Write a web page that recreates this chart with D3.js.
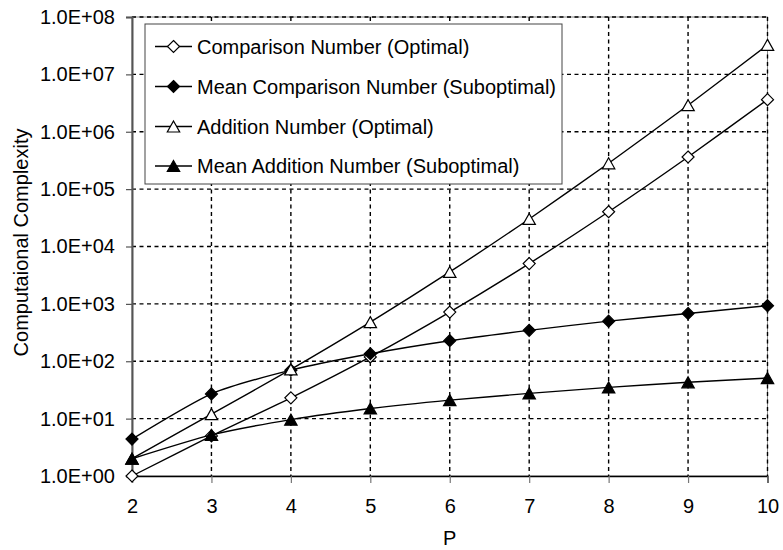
<!DOCTYPE html>
<html>
<head>
<meta charset="utf-8">
<script src="https://cdn.jsdelivr.net/npm/d3@7"></script>
<style>
  html, body { margin: 0; padding: 0; background: #fff; }
  svg { display: block; font-family: "Liberation Sans", Arial, sans-serif; }
</style>
</head>
<body>
<svg id="chart" width="783" height="550"></svg>
<script>
// ---- data ----
const pValues = [2, 3, 4, 5, 6, 7, 8, 9, 10];
const comparisonOptimal = [1, 5, 23, 119, 720, 5040, 40300, 363000, 3630000];
const meanComparisonSuboptimal = [4.4, 27, 70, 135, 228, 346, 500, 680, 930];
const additionOptimal = [2, 12, 72, 480, 3600, 30200, 282000, 2900000, 32700000];
const meanAdditionSuboptimal = [2, 5.2, 9.6, 15, 21, 27.5, 35, 43, 51];
const yTickValues = [1, 10, 100, 1e3, 1e4, 1e5, 1e6, 1e7, 1e8];
const yTickLabels = ["1.0E+00", "1.0E+01", "1.0E+02", "1.0E+03", "1.0E+04", "1.0E+05", "1.0E+06", "1.0E+07", "1.0E+08"];
const seriesNames = [
  "Comparison Number (Optimal)",
  "Mean Comparison Number (Suboptimal)",
  "Addition Number (Optimal)",
  "Mean Addition Number (Suboptimal)"
];
const seriesMarkers = ["diamondOpen", "diamondFilled", "triangleOpen", "triangleFilled"];
const xTitle = "P";
const yTitle = "Computaional Complexity";

const series = [comparisonOptimal, meanComparisonSuboptimal, additionOptimal, meanAdditionSuboptimal]
  .map((vals, i) => ({ name: seriesNames[i], marker: seriesMarkers[i], values: vals.map((v, j) => ({ x: pValues[j], y: v })) }));

// ---- layout ----
const L = 132, R = 767.5, T = 17, B = 476;
const svg = d3.select("#chart");
const FONT = 20;

const x = d3.scaleLinear().domain([2, 10]).range([L, R]);
const y = d3.scaleLog().domain([1, 1e8]).range([B, T]);

// plot border (right/top)
svg.append("rect").attr("x", L).attr("y", T).attr("width", R - L).attr("height", B - T)
  .attr("fill", "none").attr("stroke", "#888").attr("stroke-width", 1);

// gridlines
const grid = svg.append("g").attr("stroke", "#000").attr("stroke-width", 1.4).attr("stroke-dasharray", "4,3.5");
grid.selectAll("line.h").data(yTickValues.slice(1)).join("line")
  .attr("x1", L).attr("x2", R).attr("y1", d => y(d)).attr("y2", d => y(d));
grid.selectAll("line.v").data(pValues.slice(1)).join("line")
  .attr("x1", d => x(d)).attr("x2", d => x(d)).attr("y1", T).attr("y2", B);

// axes
const yAxis = d3.axisLeft(y).tickValues(yTickValues).tickFormat((d, i) => yTickLabels[i])
  .tickSize(6).tickPadding(11);
const gy = svg.append("g").attr("transform", `translate(${L},0)`).call(yAxis);
gy.select(".domain").attr("stroke", "#555").attr("stroke-width", 2);
gy.selectAll(".tick line").attr("stroke", "#555").attr("stroke-width", 1.2);
gy.selectAll(".tick text").attr("font-size", FONT).attr("fill", "#000")
  .attr("font-family", "Liberation Sans, Arial, sans-serif");

const xAxis = d3.axisBottom(x).tickValues(pValues).tickFormat(d3.format("d"))
  .tickSize(7).tickPadding(16);
const gx = svg.append("g").attr("transform", `translate(0,${B})`).call(xAxis);
gx.select(".domain").attr("stroke", "#000").attr("stroke-width", 1.3);
gx.selectAll(".tick line").attr("stroke", "#777").attr("stroke-width", 1.2);
gx.selectAll(".tick text").attr("font-size", FONT).attr("fill", "#000")
  .attr("font-family", "Liberation Sans, Arial, sans-serif");

// titles
svg.append("text").attr("x", (L + R) / 2).attr("y", 545).attr("text-anchor", "middle")
  .attr("font-size", FONT).text(xTitle);
svg.append("text").attr("transform", `translate(21,${(T + B) / 2 - 4}) rotate(-90)`)
  .attr("text-anchor", "middle").attr("dy", "0.35em").attr("font-size", FONT).text(yTitle);

// markers
function drawMarker(g, type, cx, cy) {
  if (type.startsWith("diamond")) {
    const r = 6;
    g.append("path").attr("d", `M${cx},${cy - r}L${cx + r},${cy}L${cx},${cy + r}L${cx - r},${cy}Z`)
      .attr("fill", type === "diamondOpen" ? "#fff" : "#000").attr("stroke", "#000").attr("stroke-width", 1.2);
  } else {
    const w = 6.2, h = 11;
    g.append("path").attr("d", `M${cx},${cy - h / 2}L${cx + w},${cy + h / 2}L${cx - w},${cy + h / 2}Z`)
      .attr("fill", type === "triangleOpen" ? "#fff" : "#000").attr("stroke", "#000").attr("stroke-width", 1.2);
  }
}

const line = d3.line().x(d => x(d.x)).y(d => y(d.y)).curve(d3.curveCardinal.tension(0.35));
series.forEach(s => {
  const g = svg.append("g");
  g.append("path").attr("d", line(s.values)).attr("fill", "none").attr("stroke", "#000").attr("stroke-width", 1.4);
  s.values.forEach(d => drawMarker(g, s.marker, x(d.x), y(d.y)));
});

// legend
const lg = svg.append("g");
lg.append("rect").attr("x", 145).attr("y", 24).attr("width", 417).attr("height", 160)
  .attr("fill", "#fff").attr("stroke", "#444").attr("stroke-width", 1);
const rowY = [46.5, 86.5, 126.5, 166];
series.forEach((s, i) => {
  const gy2 = rowY[i];
  lg.append("line").attr("x1", 155).attr("x2", 192).attr("y1", gy2).attr("y2", gy2)
    .attr("stroke", "#000").attr("stroke-width", 1.4);
  drawMarker(lg, s.marker, 173.5, gy2);
  lg.append("text").attr("x", 197).attr("y", gy2).attr("dy", "0.35em").attr("font-size", FONT).text(s.name);
});
</script>
</body>
</html>
